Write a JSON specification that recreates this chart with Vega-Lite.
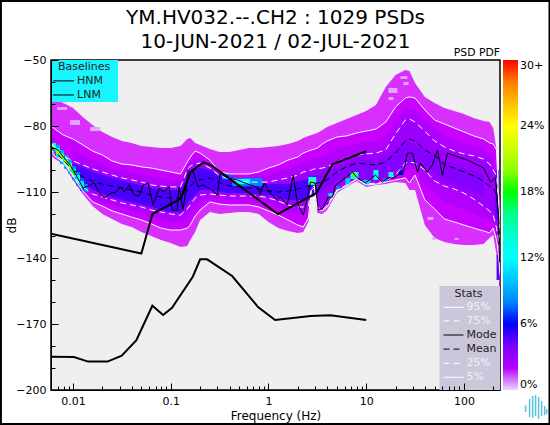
{"$schema":"https://vega.github.io/schema/vega-lite/v6.json","width":449,"height":330,"autosize":"none","padding":{"left":51,"top":60,"right":50,"bottom":35},"background":"white",
"config":{"font":"DejaVu Sans","view":{"stroke":"black","strokeWidth":1.5,"fill":"#efefef"}},
"title":{"text":["YM.HV032.--.CH2 : 1029 PSDs","10-JUN-2021 / 02-JUL-2021"],"fontSize":20,"fontWeight":"normal","lineHeight":24,"anchor":"middle","offset":-54,"font":"DejaVu Sans","color":"black"},
"datasets":{
"cols":[
{"f":0.00595,"top":-67.3,"p95":-80,"p75":-87.7,"mean":-89.5,"p25":-90.9,"p5":-91.8,"bot":-93.2},
{"f":0.00631,"top":-67.7,"p95":-80.9,"p75":-89.1,"mean":-90.9,"p25":-92.3,"p5":-93.2,"bot":-94.5},
{"f":0.00794,"top":-69.5,"p95":-84.1,"p75":-93.6,"mean":-95.5,"p25":-95.9,"p5":-96.4,"bot":-97.3},
{"f":0.01,"top":-71.8,"p95":-85.9,"p75":-95.9,"mean":-100,"p25":-102.3,"p5":-102.7,"bot":-104.5},
{"f":0.01259,"top":-75.9,"p95":-88.6,"p75":-97.7,"mean":-103.2,"p25":-107.7,"p5":-109.5,"bot":-110.9},
{"f":0.01585,"top":-79.5,"p95":-91.4,"p75":-99.5,"mean":-105,"p25":-110.9,"p5":-114.5,"bot":-116.4},
{"f":0.01995,"top":-82.7,"p95":-93.2,"p75":-100.9,"mean":-106.4,"p25":-112.3,"p5":-116.4,"bot":-120},
{"f":0.02512,"top":-85,"p95":-95.9,"p75":-102.3,"mean":-107.3,"p25":-113.6,"p5":-118.6,"bot":-122.3},
{"f":0.03162,"top":-86.8,"p95":-97.3,"p75":-103.6,"mean":-108.2,"p25":-115,"p5":-120,"bot":-124.5},
{"f":0.03981,"top":-87.7,"p95":-97.7,"p75":-104.5,"mean":-109.1,"p25":-115.9,"p5":-121.4,"bot":-125.9},
{"f":0.05012,"top":-89.1,"p95":-98.6,"p75":-105.5,"mean":-110,"p25":-116.8,"p5":-122.7,"bot":-128.2},
{"f":0.0631,"top":-89.5,"p95":-99.1,"p75":-106.8,"mean":-111.4,"p25":-118.2,"p5":-124.5,"bot":-130},
{"f":0.0794,"top":-90,"p95":-100,"p75":-107.3,"mean":-112.3,"p25":-119.1,"p5":-126.4,"bot":-131.8},
{"f":0.1,"top":-90,"p95":-100.9,"p75":-107.7,"mean":-112.7,"p25":-120,"p5":-127.3,"bot":-133.2},
{"f":0.1259,"top":-89.1,"p95":-101.8,"p75":-107.7,"mean":-112.7,"p25":-120.5,"p5":-127.3,"bot":-135},
{"f":0.1473,"top":-85.9,"p95":-96.4,"p75":-100,"mean":-109.1,"p25":-117.7,"p5":-126.4,"bot":-134.5},
{"f":0.1585,"top":-85.5,"p95":-94.1,"p75":-98.2,"mean":-107.3,"p25":-115.9,"p5":-125,"bot":-131.8},
{"f":0.1777,"top":-87.7,"p95":-91.4,"p75":-97.3,"mean":-105,"p25":-112.7,"p5":-120.9,"bot":-128.2},
{"f":0.1995,"top":-88.6,"p95":-92.3,"p75":-96.8,"mean":-104.5,"p25":-111.4,"p5":-118.2,"bot":-122.7},
{"f":0.2512,"top":-90.5,"p95":-95.5,"p75":-99.1,"mean":-103.6,"p25":-110.9,"p5":-114.5,"bot":-119.1},
{"f":0.3162,"top":-91.8,"p95":-100.9,"p75":-102.7,"mean":-105.9,"p25":-111.4,"p5":-115.5,"bot":-120},
{"f":0.3981,"top":-91.8,"p95":-101.8,"p75":-104.1,"mean":-107.3,"p25":-111.8,"p5":-115.9,"bot":-119.5},
{"f":0.5012,"top":-90.9,"p95":-101.8,"p75":-105,"mean":-107.7,"p25":-111.8,"p5":-115.9,"bot":-119.1},
{"f":0.631,"top":-90,"p95":-101.8,"p75":-105.5,"mean":-108.2,"p25":-111.8,"p5":-115.9,"bot":-119.1},
{"f":0.794,"top":-90,"p95":-100.9,"p75":-105.5,"mean":-108.6,"p25":-111.8,"p5":-116.8,"bot":-120},
{"f":1,"top":-89.5,"p95":-99.1,"p75":-105.5,"mean":-109.5,"p25":-112.7,"p5":-118.6,"bot":-123.6},
{"f":1.259,"top":-89.1,"p95":-97.7,"p75":-104.5,"mean":-110,"p25":-114.1,"p5":-120.5,"bot":-126.4},
{"f":1.585,"top":-88.2,"p95":-95.5,"p75":-103.6,"mean":-109.5,"p25":-115.9,"p5":-122.7,"bot":-127.7},
{"f":1.995,"top":-86.8,"p95":-94.1,"p75":-102.3,"mean":-108.6,"p25":-116.8,"p5":-125,"bot":-128.6},
{"f":2.27,"top":-85.5,"p95":-92.3,"p75":-100.9,"mean":-107.7,"p25":-116.8,"p5":-125.9,"bot":-128.2},
{"f":2.56,"top":-84.5,"p95":-91.4,"p75":-100.5,"mean":-107.3,"p25":-116.4,"p5":-121.8,"bot":-123.6},
{"f":2.75,"top":-84.1,"p95":-90.9,"p75":-100,"mean":-106.8,"p25":-108.2,"p5":-109.1,"bot":-110},
{"f":2.946,"top":-83.6,"p95":-90.5,"p75":-99.5,"mean":-106.4,"p25":-107.3,"p5":-108.2,"bot":-109.1},
{"f":3.162,"top":-83.2,"p95":-90,"p75":-99.5,"mean":-105.9,"p25":-116.8,"p5":-117.7,"bot":-119.5},
{"f":3.56,"top":-81.8,"p95":-88.2,"p75":-99.1,"mean":-105.5,"p25":-118.2,"p5":-118.6,"bot":-120},
{"f":3.981,"top":-80.5,"p95":-86.8,"p75":-98.6,"mean":-104.5,"p25":-115.9,"p5":-116.8,"bot":-118.2},
{"f":5.012,"top":-78.6,"p95":-85,"p75":-96.4,"mean":-100.9,"p25":-109.1,"p5":-109.5,"bot":-110.5},
{"f":6.31,"top":-76.8,"p95":-84.5,"p75":-94.5,"mean":-98.6,"p25":-106.8,"p5":-107.3,"bot":-107.7},
{"f":7.943,"top":-75,"p95":-83.2,"p75":-93.2,"mean":-96.8,"p25":-104.1,"p5":-104.1,"bot":-105},
{"f":10,"top":-73.2,"p95":-82.3,"p75":-92.7,"mean":-97.3,"p25":-106.4,"p5":-106.8,"bot":-107.7},
{"f":12.59,"top":-70.5,"p95":-81.4,"p75":-92.3,"mean":-97.7,"p25":-105.9,"p5":-106.4,"bot":-106.8},
{"f":15.85,"top":-62.3,"p95":-78.2,"p75":-90.9,"mean":-96.4,"p25":-105,"p5":-105.5,"bot":-106.4},
{"f":19.95,"top":-56.8,"p95":-71.4,"p75":-83.6,"mean":-92.3,"p25":-102.3,"p5":-104.5,"bot":-105.5},
{"f":25.12,"top":-54.5,"p95":-67.3,"p75":-77.3,"mean":-86.8,"p25":-96.8,"p5":-103.6,"bot":-105.9},
{"f":27.7,"top":-55,"p95":-66.8,"p75":-76.8,"mean":-85.9,"p25":-96.4,"p5":-105.9,"bot":-109.1},
{"f":31.62,"top":-60.5,"p95":-67.3,"p75":-78.2,"mean":-86.8,"p25":-96.8,"p5":-102.3,"bot":-109.1},
{"f":39.81,"top":-66.8,"p95":-72.7,"p75":-82.3,"mean":-90.9,"p25":-100,"p5":-113.6,"bot":-125},
{"f":50.12,"top":-69.5,"p95":-77.3,"p75":-86.8,"mean":-93.2,"p25":-105,"p5":-117.7,"bot":-130.9},
{"f":63.1,"top":-71.8,"p95":-79.1,"p75":-89.5,"mean":-97.7,"p25":-107.3,"p5":-122.3,"bot":-132.7},
{"f":79.43,"top":-73.2,"p95":-80.9,"p75":-91.4,"mean":-99.1,"p25":-108.6,"p5":-123.6,"bot":-133.6},
{"f":100,"top":-74.5,"p95":-82.7,"p75":-92.7,"mean":-100.9,"p25":-110.5,"p5":-125,"bot":-134.1},
{"f":125.9,"top":-76.4,"p95":-84.5,"p75":-93.6,"mean":-102.7,"p25":-113.2,"p5":-126.4,"bot":-134.1},
{"f":158.5,"top":-77.7,"p95":-85.9,"p75":-95,"mean":-105,"p25":-116.4,"p5":-127.7,"bot":-133.6},
{"f":183,"top":-78.2,"p95":-87.7,"p75":-97.3,"mean":-107.3,"p25":-118.6,"p5":-128.6,"bot":-130.9},
{"f":199.5,"top":-80.9,"p95":-88.2,"p75":-100,"mean":-108.2,"p25":-120.5,"p5":-126.4,"bot":-129.5},
{"f":215.8,"top":-90.9,"p95":-90.9,"p75":-102.7,"mean":-111.4,"p25":-126.4,"p5":-131.8,"bot":-138.6},
{"f":226.2,"top":-109.1,"p95":-113.6,"p75":-115.9,"mean":-120.5,"p25":-131.8,"p5":-138.6,"bot":-147.7},
{"f":234,"top":-113.6,"p95":-131.8,"p75":-134.1,"mean":-136.4,"p25":-143.2,"p5":-147.7,"bot":-154.5}
],
"mid":[
{"f":0.01,"hi":-90.9,"lo":-102.7},{"f":0.01585,"hi":-95.5,"lo":-112.7},{"f":0.02512,"hi":-99.1,"lo":-115.9},{"f":0.03981,"hi":-100.9,"lo":-118.6},{"f":0.0631,"hi":-102.7,"lo":-121.4},{"f":0.1,"hi":-104.5,"lo":-123.6},{"f":0.1259,"hi":-104.5,"lo":-123.6},{"f":0.1585,"hi":-95.9,"lo":-120.9},{"f":0.1995,"hi":-94.5,"lo":-114.5},{"f":0.2512,"hi":-97.3,"lo":-112.7},{"f":0.3981,"hi":-102.7,"lo":-113.6},{"f":0.631,"hi":-103.6,"lo":-113.6},{"f":1,"hi":-102.3,"lo":-115.5},{"f":1.585,"hi":-99.5,"lo":-119.1},{"f":2.27,"hi":-96.4,"lo":-120.5},{"f":2.56,"hi":-95.9,"lo":-119.1},{"f":2.75,"hi":-95.5,"lo":-108.6},{"f":2.946,"hi":-95,"lo":-107.7},{"f":3.162,"hi":-94.5,"lo":-117.3},{"f":3.981,"hi":-92.7,"lo":-116.4},{"f":5.012,"hi":-90.9,"lo":-109.1},{"f":7.943,"hi":-88.2,"lo":-104.1},{"f":12.59,"hi":-86.8,"lo":-105.9},{"f":15.85,"hi":-84.5,"lo":-105},{"f":19.95,"hi":-77.3,"lo":-103.2},{"f":25.12,"hi":-72.3,"lo":-100},{"f":31.62,"hi":-72.7,"lo":-99.5},{"f":39.81,"hi":-77.3,"lo":-106.8},{"f":63.1,"hi":-84.1,"lo":-114.5},{"f":100,"hi":-87.7,"lo":-117.8},{"f":158.5,"hi":-90.5,"lo":-121.8},{"f":199.5,"hi":-94.1,"lo":-123.2},{"f":226.2,"hi":-115,"lo":-135},{"f":234,"hi":-132.7,"lo":-145.5}
],
"core":[
{"f":0.01,"hi":-96.8,"lo":-101.4,"pct":5.3},{"f":0.01585,"hi":-100.9,"lo":-109.1,"pct":5.3},{"f":0.02512,"hi":-103.6,"lo":-112.3,"pct":5.3},{"f":0.03981,"hi":-105.9,"lo":-114.5,"pct":5.3},{"f":0.0631,"hi":-108.2,"lo":-116.8,"pct":5.3},{"f":0.1,"hi":-109.1,"lo":-119.1,"pct":5.3},{"f":0.1259,"hi":-109.1,"lo":-119.1,"pct":5.3},{"f":0.1585,"hi":-100,"lo":-113.6,"pct":5.3},{"f":0.1995,"hi":-99.1,"lo":-109.1,"pct":5.3},{"f":0.2512,"hi":-100,"lo":-109.1,"pct":5.3},{"f":0.3981,"hi":-104.5,"lo":-110.5,"pct":5.3},{"f":0.631,"hi":-105.9,"lo":-110.5,"pct":5.3},{"f":1,"hi":-106.4,"lo":-111.4,"pct":5.3},{"f":1.585,"hi":-106.4,"lo":-113.6,"pct":5.3},{"f":2.27,"hi":-104.5,"lo":-113.6,"pct":5.3},{"f":3.162,"hi":-102.3,"lo":-111.4,"pct":5.3},
{"f":3.162,"hi":-102.3,"lo":-111.4,"pct":3.8},{"f":5.012,"hi":-99.1,"lo":-104.5,"pct":3.8},{"f":7.943,"hi":-95.5,"lo":-102.3,"pct":3.8},{"f":10,"hi":-95.5,"lo":-103.6,"pct":3.8},{"f":15.85,"hi":-94.5,"lo":-103.2,"pct":3.8},{"f":25.12,"hi":-86.4,"lo":-97.7,"pct":3.8},{"f":39.81,"hi":-90.9,"lo":-97.7,"pct":3.8},{"f":63.1,"hi":-95.5,"lo":-104.5,"pct":3.8},{"f":100,"hi":-99.1,"lo":-108.2,"pct":3.8},{"f":158.5,"hi":-102.3,"lo":-111.4,"pct":3.8}
],
"cells":[
{"f1":0.00595,"f2":0.00669,"d1":-87.7,"d2":-91.8,"pct":13},{"f1":0.00595,"f2":0.00655,"d1":-89.1,"d2":-90.5,"pct":21},
{"f1":0.00669,"f2":0.00736,"d1":-88.5,"d2":-94.8,"pct":9},{"f1":0.00669,"f2":0.00736,"d1":-90,"d2":-93.6,"pct":14},{"f1":0.00669,"f2":0.00736,"d1":-91,"d2":-92.7,"pct":20},
{"f1":0.00736,"f2":0.00809,"d1":-90.9,"d2":-97.3,"pct":9},{"f1":0.00736,"f2":0.00809,"d1":-92.3,"d2":-95.9,"pct":14},{"f1":0.00736,"f2":0.00809,"d1":-93.2,"d2":-95,"pct":20},
{"f1":0.00809,"f2":0.00889,"d1":-93.2,"d2":-99.5,"pct":9},{"f1":0.00809,"f2":0.00889,"d1":-94.5,"d2":-98.2,"pct":14},{"f1":0.00809,"f2":0.00889,"d1":-95.5,"d2":-97.3,"pct":21},
{"f1":0.00889,"f2":0.00976,"d1":-95.5,"d2":-101.8,"pct":9},{"f1":0.00889,"f2":0.00976,"d1":-96.8,"d2":-100.5,"pct":15},{"f1":0.00889,"f2":0.00976,"d1":-97.7,"d2":-99.5,"pct":22},
{"f1":0.00976,"f2":0.01073,"d1":-98.2,"d2":-104.5,"pct":8},{"f1":0.00976,"f2":0.01073,"d1":-99.5,"d2":-103.2,"pct":13},{"f1":0.00976,"f2":0.01073,"d1":-100.5,"d2":-102.3,"pct":18},
{"f1":0.01073,"f2":0.01179,"d1":-100.9,"d2":-107.3,"pct":8},{"f1":0.01073,"f2":0.01179,"d1":-102.3,"d2":-105.9,"pct":12},
{"f1":0.01179,"f2":0.01295,"d1":-103.6,"d2":-109.5,"pct":7},{"f1":0.01179,"f2":0.01295,"d1":-105,"d2":-108.2,"pct":11},
{"f1":0.01295,"f2":0.01425,"d1":-106.4,"d2":-110,"pct":8},
{"f1":0.336,"f2":0.4257,"d1":-101.8,"d2":-104.5,"pct":7},{"f1":0.4257,"f2":0.864,"d1":-103.6,"d2":-107.3,"pct":8},{"f1":0.4677,"f2":0.651,"d1":-104.1,"d2":-106.4,"pct":12},
{"f1":2.557,"f2":3.09,"d1":-103.2,"d2":-106.8,"pct":12},{"f1":2.68,"f2":2.88,"d1":-104.5,"d2":-106.4,"pct":20},
{"f1":4.1,"f2":4.61,"d1":-110.5,"d2":-112.3,"pct":11},{"f1":4.84,"f2":5.44,"d1":-107.3,"d2":-109.1,"pct":8},
{"f1":6.12,"f2":6.89,"d1":-103.6,"d2":-106.8,"pct":10},{"f1":6.89,"f2":8.32,"d1":-100.9,"d2":-104.1,"pct":13},{"f1":7.22,"f2":7.94,"d1":-101.4,"d2":-103.2,"pct":19},
{"f1":9.14,"f2":11.04,"d1":-104.5,"d2":-106.8,"pct":10},{"f1":11.85,"f2":13.34,"d1":-100,"d2":-104.5,"pct":13},{"f1":15,"f2":16.5,"d1":-103.6,"d2":-105.5,"pct":8},{"f1":16.9,"f2":19,"d1":-100.9,"d2":-103.2,"pct":12},{"f1":21.4,"f2":24.05,"d1":-100,"d2":-102.3,"pct":6},
{"f1":215.8,"f2":231.4,"d1":-138.6,"d2":-150,"pct":5},{"f1":210.7,"f2":226.2,"d1":-100,"d2":-122.7,"pct":5},
{"f1":16.9,"f2":20.9,"d1":-62.7,"d2":-65,"pct":0.2},{"f1":22.4,"f2":26.4,"d1":-57.3,"d2":-58.6,"pct":0.2},{"f1":24.05,"f2":27.1,"d1":-60,"d2":-61.4,"pct":0.2},{"f1":16.9,"f2":19,"d1":-66.8,"d2":-68.2,"pct":0.2},
{"f1":0.00686,"f2":0.00869,"d1":-71.4,"d2":-72.7,"pct":0.2},{"f1":0.00932,"f2":0.01179,"d1":-77.3,"d2":-79.5,"pct":0.2},{"f1":0.01493,"f2":0.01892,"d1":-80.5,"d2":-82.3,"pct":0.2},
{"f1":42.4,"f2":48.8,"d1":-121.4,"d2":-122.7,"pct":0.2},{"f1":47.56,"f2":51.2,"d1":-130.5,"d2":-131.8,"pct":0.2},{"f1":80.2,"f2":88.1,"d1":-130.9,"d2":-131.8,"pct":0.2}
],
"mode":[
{"f":0.00595,"db":-89.5},{"f":0.00702,"db":-90.9},{"f":0.00809,"db":-94.5},{"f":0.00932,"db":-97.7},{"f":0.01073,"db":-102.3},{"f":0.01265,"db":-108.2},{"f":0.01425,"db":-107.3},{"f":0.01642,"db":-105.9},{"f":0.01846,"db":-110},{"f":0.02077,"db":-112.7},{"f":0.02452,"db":-110.5},{"f":0.02761,"db":-110},{"f":0.03102,"db":-107.7},{"f":0.0333,"db":-110},{"f":0.0377,"db":-106.8},{"f":0.04212,"db":-111.4},{"f":0.04746,"db":-111.8},{"f":0.05218,"db":-106.8},{"f":0.05856,"db":-105.9},{"f":0.066,"db":-115.9},{"f":0.07606,"db":-108.2},{"f":0.08361,"db":-110},{"f":0.0963,"db":-107.7},{"f":0.1034,"db":-118.2},{"f":0.1161,"db":-118.2},{"f":0.1218,"db":-107.7},{"f":0.1338,"db":-118.2},{"f":0.1507,"db":-100.9},{"f":0.1698,"db":-100.9},{"f":0.1907,"db":-107.7},{"f":0.2139,"db":-106.8},{"f":0.2653,"db":-109.1},{"f":0.2988,"db":-111.4},{"f":0.3206,"db":-101.4},{"f":0.3778,"db":-103.6},{"f":0.4787,"db":-104.5},{"f":0.6506,"db":-106.8},{"f":0.786,"db":-108.2},{"f":0.824,"db":-111.4},{"f":0.9053,"db":-105.9},{"f":1.043,"db":-110.5},{"f":1.229,"db":-113.6},{"f":1.32,"db":-112.3},{"f":1.558,"db":-115.9},{"f":1.794,"db":-102.3},{"f":1.971,"db":-115},{"f":2.27,"db":-120.5},{"f":2.5,"db":-112.7},{"f":2.683,"db":-105.5},{"f":3.007,"db":-105.9},{"f":3.238,"db":-118.2},{"f":3.62,"db":-117.3},{"f":4.096,"db":-112.3},{"f":4.506,"db":-112.3},{"f":4.861,"db":-106.8},{"f":6.12,"db":-103.6},{"f":7.22,"db":-100.9},{"f":8.13,"db":-103.6},{"f":9.81,"db":-105.9},{"f":12.41,"db":-102.3},{"f":14.66,"db":-105.5},{"f":16.5,"db":-103.6},{"f":18.97,"db":-103.6},{"f":24.07,"db":-100.9},{"f":26.45,"db":-92.3},{"f":29.72,"db":-92.3},{"f":33.49,"db":-100.9},{"f":35.88,"db":-96.8},{"f":42.32,"db":-100.9},{"f":47.56,"db":-97.7},{"f":53.58,"db":-90.9},{"f":60.26,"db":-102.3},{"f":67.83,"db":-92.3},{"f":92.2,"db":-94.5},{"f":108.9,"db":-95.5},{"f":158.8,"db":-99.1},{"f":187.1,"db":-105.5},{"f":210.7,"db":-103.6},{"f":226.2,"db":-120.9},{"f":231.4,"db":-141.8}
],
"hnm":[{"f":0.00595,"db":-129},{"f":0.05,"db":-138},{"f":0.065,"db":-120},{"f":0.127,"db":-113},{"f":0.159,"db":-101},{"f":0.175,"db":-99.5},{"f":0.217,"db":-96.5},{"f":0.263,"db":-98},{"f":1.25,"db":-120},{"f":3.1,"db":-110.5},{"f":4.5,"db":-97.4},{"f":10,"db":-91.5}],
"lnm":[{"f":0.00595,"db":-184.9},{"f":0.0102,"db":-185},{"f":0.0143,"db":-187.1},{"f":0.0225,"db":-187.1},{"f":0.0315,"db":-184.4},{"f":0.0445,"db":-177.3},{"f":0.0648,"db":-161.7},{"f":0.0835,"db":-165.9},{"f":0.103,"db":-162.6},{"f":0.168,"db":-148.5},{"f":0.2,"db":-140.6},{"f":0.2355,"db":-140.6},{"f":0.425,"db":-148.2},{"f":0.787,"db":-162.4},{"f":1.17,"db":-168.2},{"f":2.7,"db":-166.4},{"f":4.3,"db":-166},{"f":10,"db":-168.2}],
"logo":[{"f":428,"a":-207,"b":-210},{"f":470,"a":-204,"b":-212.3},{"f":505,"a":-202.7,"b":-212.7},{"f":541,"a":-202.3,"b":-211.8},{"f":581,"a":-203.2,"b":-213.2},{"f":624,"a":-205,"b":-211.8},{"f":670,"a":-207.3,"b":-211.4},{"f":702,"a":-208.6,"b":-210.9}]
},
"resolve":{"axis":{"x":"independent","y":"independent"}},
"layer":[
{"data":{"values":[{"f":1,"db":-100}]},"mark":{"type":"point","opacity":0},"encoding":{
 "x":{"field":"f","type":"quantitative","scale":{"type":"log","domain":[0.00595,234],"nice":false},"axis":{"orient":"bottom","zindex":1,"title":null,"labels":false,"domain":false,"grid":false,"tickColor":"black","tickSize":-4,"values":[0.006,0.007,0.008,0.009,0.02,0.03,0.04,0.05,0.06,0.07,0.08,0.09,0.2,0.3,0.4,0.5,0.6,0.7,0.8,0.9,2,3,4,5,6,7,8,9,20,30,40,50,60,70,80,90,200]}},
 "y":{"field":"db","type":"quantitative","scale":{"domain":[-200,-50],"nice":false},"axis":{"orient":"left","zindex":1,"title":null,"labels":false,"domain":false,"grid":false,"tickColor":"black","tickSize":-4,"values":[-60,-70,-90,-100,-120,-130,-150,-160,-180,-190]}}}},
{"layer":[
{"data":{"name":"cols"},"mark":{"type":"area","clip":true},"encoding":{
 "x":{"field":"f","type":"quantitative","scale":{"type":"log","domain":[0.00595,234],"nice":false},"axis":{"orient":"bottom","zindex":1,"title":"Frequency (Hz)","titleFontSize":12,"titleFontWeight":"normal","titleColor":"black","titlePadding":4,"labelFontSize":11,"labelColor":"black","grid":false,"domainColor":"black","tickColor":"black","tickSize":-7,"labelPadding":12,"labelFlush":false,"labelOverlap":false,"values":[0.01,0.1,1,10,100],"format":"~g"}},
 "y":{"field":"bot","type":"quantitative","scale":{"domain":[-200,-50],"nice":false},"axis":{"orient":"left","zindex":1,"title":"dB","titleFontSize":12,"titleFontWeight":"normal","titleColor":"black","titlePadding":-3,"labelFontSize":11,"labelColor":"black","grid":false,"domainColor":"black","tickColor":"black","tickSize":-7,"labelPadding":12,"labelFlush":false,"labelOverlap":false,"values":[-50,-80,-110,-140,-170,-200]}},
 "y2":{"field":"top"},
 "color":{"datum":0.7,"type":"quantitative","title":null,"scale":{"domain":[0,0.5,1,6,12,18,24,30],"range":["#ecd8ff","#e040ff","#cc00ff","#0000ff","#00ffff","#00ff00","#ffff00","#ff0000"]},"legend":{"title":null,"orient":"none","legendX":452,"legendY":0,"padding":0,"gradientLength":330,"gradientThickness":15,"gradientStrokeWidth":0,"values":[0,6,12,18,24,30],"labelExpr":"datum.value==30?'30+':datum.value+'%'","labelFontSize":11,"labelColor":"black","labelOffset":2}}}},
{"data":{"name":"cols"},"mark":{"type":"area","clip":true},"encoding":{"x":{"field":"f","type":"quantitative"},"y":{"field":"p5","type":"quantitative"},"y2":{"field":"p95"},"color":{"datum":1.2,"type":"quantitative","title":null}}},
{"data":{"name":"mid"},"mark":{"type":"area","clip":true},"encoding":{"x":{"field":"f","type":"quantitative"},"y":{"field":"lo","type":"quantitative"},"y2":{"field":"hi"},"color":{"datum":2.1,"type":"quantitative","title":null}}},
{"data":{"name":"cols"},"mark":{"type":"area","clip":true},"encoding":{"x":{"field":"f","type":"quantitative"},"y":{"field":"p25","type":"quantitative"},"y2":{"field":"p75"},"color":{"datum":3,"type":"quantitative","title":null}}},
{"data":{"name":"core"},"mark":{"type":"area","clip":true},"encoding":{"x":{"field":"f","type":"quantitative"},"y":{"field":"lo","type":"quantitative"},"y2":{"field":"hi"},"detail":{"field":"pct"},"color":{"field":"pct","type":"quantitative","title":null}}},
{"data":{"name":"cells"},"mark":{"type":"rect","clip":true},"encoding":{"x":{"field":"f1","type":"quantitative"},"x2":{"field":"f2"},"y":{"field":"d1","type":"quantitative"},"y2":{"field":"d2"},"color":{"field":"pct","type":"quantitative","title":null}}},
{"data":{"name":"cols"},"mark":{"type":"line","color":"white","strokeWidth":1,"clip":true},"encoding":{"x":{"field":"f","type":"quantitative"},"y":{"field":"p95","type":"quantitative"}}},
{"data":{"name":"cols"},"mark":{"type":"line","color":"white","strokeWidth":1,"clip":true},"encoding":{"x":{"field":"f","type":"quantitative"},"y":{"field":"p5","type":"quantitative"}}},
{"data":{"name":"cols"},"mark":{"type":"line","color":"white","strokeWidth":1,"strokeDash":[6,4],"clip":true},"encoding":{"x":{"field":"f","type":"quantitative"},"y":{"field":"p75","type":"quantitative"}}},
{"data":{"name":"cols"},"mark":{"type":"line","color":"white","strokeWidth":1,"strokeDash":[6,4],"clip":true},"encoding":{"x":{"field":"f","type":"quantitative"},"y":{"field":"p25","type":"quantitative"}}},
{"data":{"name":"cols"},"mark":{"type":"line","color":"black","strokeWidth":1,"strokeDash":[6,4],"clip":true},"encoding":{"x":{"field":"f","type":"quantitative"},"y":{"field":"mean","type":"quantitative"}}},
{"data":{"name":"mode"},"mark":{"type":"line","color":"black","strokeWidth":1,"clip":true},"encoding":{"x":{"field":"f","type":"quantitative"},"y":{"field":"db","type":"quantitative"}}},
{"data":{"name":"hnm"},"mark":{"type":"line","color":"black","strokeWidth":2,"clip":true},"encoding":{"x":{"field":"f","type":"quantitative"},"y":{"field":"db","type":"quantitative"}}},
{"data":{"name":"lnm"},"mark":{"type":"line","color":"black","strokeWidth":2,"clip":true},"encoding":{"x":{"field":"f","type":"quantitative"},"y":{"field":"db","type":"quantitative"}}},
{"data":{"values":[{"f1":0.00595,"f2":0.0289,"d1":-50,"d2":-69.1}]},"mark":{"type":"rect","fill":"#19f5ff"},"encoding":{"x":{"field":"f1","type":"quantitative"},"x2":{"field":"f2"},"y":{"field":"d1","type":"quantitative"},"y2":{"field":"d2"}}},
{"data":{"values":[{"f1":56.2,"f2":234,"d1":-152.7,"d2":-200}]},"mark":{"type":"rect","fill":"#cbc6d9"},"encoding":{"x":{"field":"f1","type":"quantitative"},"x2":{"field":"f2"},"y":{"field":"d1","type":"quantitative"},"y2":{"field":"d2"}}},
{"data":{"values":[{"f1":0.00626,"f2":0.01024,"db":-59.5},{"f1":0.00626,"f2":0.01024,"db":-65.9},{"f1":61.8,"f2":99,"db":-175}]},"mark":{"type":"rule","color":"black","strokeWidth":1},"encoding":{"x":{"field":"f1","type":"quantitative"},"x2":{"field":"f2"},"y":{"field":"db","type":"quantitative"}}},
{"data":{"values":[{"f1":61.8,"f2":99,"db":-181.4}]},"mark":{"type":"rule","color":"black","strokeWidth":1,"strokeDash":[6,4]},"encoding":{"x":{"field":"f1","type":"quantitative"},"x2":{"field":"f2"},"y":{"field":"db","type":"quantitative"}}},
{"data":{"values":[{"f1":61.8,"f2":99,"db":-162.4},{"f1":61.8,"f2":99,"db":-194.2}]},"mark":{"type":"rule","color":"white","strokeWidth":1},"encoding":{"x":{"field":"f1","type":"quantitative"},"x2":{"field":"f2"},"y":{"field":"db","type":"quantitative"}}},
{"data":{"values":[{"f1":61.8,"f2":99,"db":-168.6},{"f1":61.8,"f2":99,"db":-187.9}]},"mark":{"type":"rule","color":"white","strokeWidth":1,"strokeDash":[6,4]},"encoding":{"x":{"field":"f1","type":"quantitative"},"x2":{"field":"f2"},"y":{"field":"db","type":"quantitative"}}},
{"data":{"values":[{"f":0.01297,"db":-53.2,"t":"Baselines"},{"f":111.5,"db":-156.4,"t":"Stats"}]},"mark":{"type":"text","align":"center","baseline":"middle","fontSize":11,"color":"#222"},"encoding":{"x":{"field":"f","type":"quantitative"},"y":{"field":"db","type":"quantitative"},"text":{"field":"t"}}},
{"data":{"values":[{"f":0.01099,"db":-59.5,"t":"HNM"},{"f":0.01099,"db":-65.9,"t":"LNM"},{"f":106.3,"db":-175,"t":"Mode"},{"f":106.3,"db":-181.4,"t":"Mean"}]},"mark":{"type":"text","align":"left","baseline":"middle","fontSize":11,"color":"#222"},"encoding":{"x":{"field":"f","type":"quantitative"},"y":{"field":"db","type":"quantitative"},"text":{"field":"t"}}},
{"data":{"values":[{"f":106.3,"db":-162.4,"t":"95%"},{"f":106.3,"db":-168.6,"t":"75%"},{"f":106.3,"db":-187.9,"t":"25%"},{"f":106.3,"db":-194.2,"t":"5%"}]},"mark":{"type":"text","align":"left","baseline":"middle","fontSize":11,"color":"#f2f0f6"},"encoding":{"x":{"field":"f","type":"quantitative"},"y":{"field":"db","type":"quantitative"},"text":{"field":"t"}}},
{"data":{"values":[{"f":234,"db":-46.8,"t":"PSD PDF"}]},"mark":{"type":"text","align":"right","baseline":"middle","fontSize":10.8,"color":"black"},"encoding":{"x":{"field":"f","type":"quantitative"},"y":{"field":"db","type":"quantitative"},"text":{"field":"t"}}},
{"data":{"name":"logo"},"mark":{"type":"rule","color":"#5cc3dc","strokeWidth":1.5},"encoding":{"x":{"field":"f","type":"quantitative"},"y":{"field":"a","type":"quantitative"},"y2":{"field":"b"}}},
{"data":{"values":[{"f1":0.001786,"f2":769,"d1":-22.7,"d2":-215.9}]},"mark":{"type":"rect","fillOpacity":0,"stroke":"black","strokeWidth":4},"encoding":{"x":{"field":"f1","type":"quantitative"},"x2":{"field":"f2"},"y":{"field":"d1","type":"quantitative"},"y2":{"field":"d2"}}}
]}
]}
